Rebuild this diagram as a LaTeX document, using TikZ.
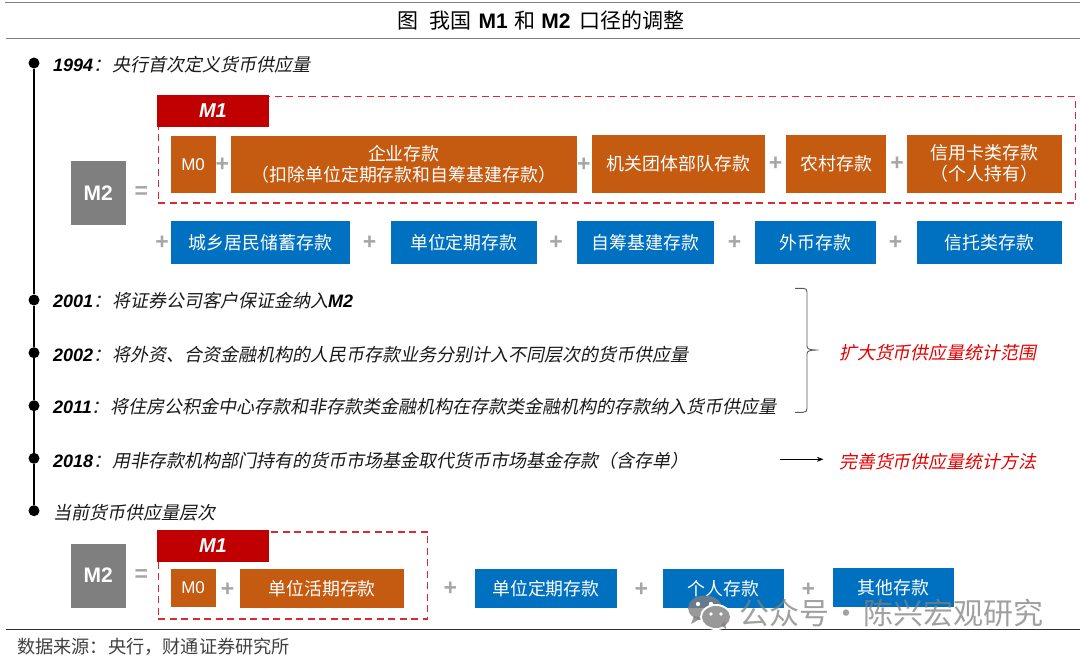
\documentclass[tikz,border=0pt]{standalone}
\usepackage{fontspec}
\usepackage{tikz}
\usetikzlibrary{positioning,arrows.meta}
\setmainfont{Liberation Sans}
\newfontfamily\lat{Liberation Sans}
\newfontfamily\cjk{Noto Sans CJK SC}
\newfontfamily\cjkit[FakeSlant=0.2]{Noto Sans CJK SC}
\newcommand{\yr}[1]{{\color{black}\lat\bfseries\itshape #1}}
\definecolor{boxorange}{HTML}{C55A11}
\definecolor{boxblue}{HTML}{0070C0}
\definecolor{tabred}{HTML}{C00000}
\definecolor{dashred}{HTML}{DC2A35}
\definecolor{signgray}{HTML}{A6A6A6}
\definecolor{rulegray}{HTML}{7F7F7F}
\begin{document}
\begin{tikzpicture}[x=1pt,y=-1pt]
\tikzstyle{every node} = [inner sep = 0 pt];
\tikzstyle{tlabel} = [anchor=west, font=\cjkit\fontsize{18}{21}\selectfont, text=black!90];
\tikzstyle{redlabel} = [anchor=west, font=\cjkit\fontsize{17.9}{21}\selectfont, text=red!90!black];
\tikzstyle{dot} = [circle, fill=black, minimum size=11 pt];
\tikzstyle{gen} = [anchor=north west, text=white, align=center, font=\cjk\fontsize{17.9}{21}\selectfont];
\tikzstyle{orangebox} = [gen, fill=boxorange];
\tikzstyle{bluebox} = [gen, fill=boxblue];
\tikzstyle{mzero} = [orangebox, font=\lat\fontsize{17}{20}\selectfont];
\tikzstyle{mtwo} = [gen, fill=rulegray, font=\lat\bfseries\fontsize{21}{24}\selectfont];
\tikzstyle{mone} = [gen, fill=tabred, font=\lat\bfseries\itshape\fontsize{20}{24}\selectfont];
\tikzstyle{frame} = [draw=dashred, line width=1.2 pt, dash pattern=on 7 pt off 4.5 pt, anchor=north west];
\tikzstyle{sign} = [text=signgray, font=\lat\bfseries\fontsize{23}{23}\selectfont];
\tikzstyle{rule} = [rulegray, line width=1.2 pt];
\useasboundingbox (0,0) rectangle (1080,657);
% title and rules
\coordinate (topA) at (5,2.7);
\coordinate (topB) at (1080,2.7);
\coordinate (midA) at (6,38.7);
\coordinate (midB) at (1080,38.7);
\coordinate (lowA) at (6,629.3);
\coordinate (lowB) at (1080,629.3);
\draw[rule] (topA) -- (topB);
\draw[rule] (midA) -- (midB);
\draw[black!80, line width=1 pt] (lowA) -- (lowB);
\node[anchor=west, font=\cjk\fontsize{21}{24}\selectfont] (title) at (397.5,20.7)
  {图\kern11pt 我国\kern7pt{\lat\bfseries M1}\kern6.5pt 和\kern6pt{\lat\bfseries M2}\kern9pt 口径的调整};
\node[anchor=west, font=\cjk\fontsize{18.2}{21}\selectfont, text=black!75] (source) at (17,647) {数据来源：央行，财通证券研究所};
% timeline
\node[dot] (dA) at (34,63) {};
\node[dot] (dB) at (34,300) {};
\node[dot] (dC) at (34,352.7) {};
\node[dot] (dD) at (34,405.7) {};
\node[dot] (dE) at (34,458.3) {};
\node[dot] (dF) at (34,510.7) {};
\draw[line width=2.8 pt] (dA) -- (dB) -- (dC) -- (dD) -- (dE) -- (dF);
\node[tlabel] (tA) at (53,64.5) {\yr{1994}：\kern1pt 央行首次定义货币供应量};
\node[tlabel] (tB) at (53,301) {\yr{2001}：\kern1pt 将证券公司客户保证金纳入\yr{M2}};
\node[tlabel] (tC) at (53,354.5) {\yr{2002}：\kern1pt 将外资、合资金融机构的人民币存款业务分别计入不同层次的货币供应量};
\node[tlabel] (tD) at (53,407) {\yr{2011}：\kern1pt 将住房公积金中心存款和非存款类金融机构在存款类金融机构的存款纳入货币供应量};
\node[tlabel] (tE) at (53,460.5) {\yr{2018}：\kern1pt 用非存款机构部门持有的货币市场基金取代货币市场基金存款（含存单）};
\node[tlabel] (tF) at (53,512.5) {当前货币供应量层次};
% first formula
\node[mtwo, minimum width=55.6, minimum height=64] (mtwoA) at (70.3,161) {M2};
\node[sign] (eqA) at (141.4,192.7) {=};
\node[frame, minimum width=917, minimum height=106.3] (frameA) at (157.6,96) {};
\node[mone, minimum width=112.5, minimum height=31.7] (moneA) at (156.5,95) {M1};
\node[mzero, minimum width=45.2, minimum height=56.7] (mzeroA) at (170.3,136) {M0};
\node[sign] (pA) at (222.4,164.3) {+};
\node[orangebox, minimum width=346.6, minimum height=56.7] (corp) at (230.3,136) {企业存款\\（扣除单位定期存款和自筹基建存款）};
\node[sign] (pB) at (583.8,164.3) {+};
\node[orangebox, minimum width=173.1, minimum height=58.4] (gov) at (591.7,134.3) {机关团体部队存款};
\node[sign] (pC) at (775.5,163.7) {+};
\node[orangebox, minimum width=100.3, minimum height=58.4] (rural) at (785.9,134.3) {农村存款};
\node[sign] (pD) at (897,164) {+};
\node[orangebox, minimum width=154.5, minimum height=58.4] (card) at (907.2,134.3) {信用卡类存款\\（个人持有）};
\node[sign] (pE) at (162,242.7) {+};
\node[bluebox, minimum width=179.7, minimum height=43.3] (house) at (170.3,220.7) {城乡居民储蓄存款};
\node[sign] (pF) at (369.7,242.7) {+};
\node[bluebox, minimum width=145.8, minimum height=43.3] (fixA) at (390.7,220.7) {单位定期存款};
\node[sign] (pG) at (556.2,242.7) {+};
\node[bluebox, minimum width=136.5, minimum height=43.3] (self) at (576.9,220.7) {自筹基建存款};
\node[sign] (pH) at (734.5,242.7) {+};
\node[bluebox, minimum width=121.7, minimum height=43.3] (forex) at (754.5,220.7) {外币存款};
\node[sign] (pI) at (895.5,242.7) {+};
\node[bluebox, minimum width=144.5, minimum height=43.3] (trust) at (917.2,220.7) {信托类存款};
% brace and red notes
\coordinate (braceA) at (795,288.3);
\coordinate (braceB) at (818.6,350);
\coordinate (braceC) at (795,412.3);
\draw[black!65, line width=0.9 pt] (braceA) -- (803,288.3) .. controls (806,288.3) and (807,289.5) .. (807,292)
  -- (807,346) .. controls (807,349) and (809,350) .. (braceB)
  .. controls (809,350) and (807,351) .. (807,354) -- (807,408.5)
  .. controls (807,411) and (806,412.3) .. (803,412.3) -- (braceC);
\node[redlabel] (scope) at (839,352.3) {扩大货币供应量统计范围};
\coordinate (arrowA) at (780.3,459.3);
\coordinate (arrowB) at (823.4,459.3);
\draw[-{Stealth[length=6.5pt,width=5pt]}, line width=0.8 pt] (arrowA) -- (arrowB);
\node[redlabel] (method) at (839,462) {完善货币供应量统计方法};
% current formula
\node[mtwo, minimum width=55.6, minimum height=64] (mtwoB) at (70.3,543.3) {M2};
\node[sign] (eqB) at (141.4,575.7) {=};
\node[frame, minimum width=269.4, minimum height=87] (frameB) at (157.6,531.3) {};
\node[mone, minimum width=112.5, minimum height=31.3] (moneB) at (156.5,530) {M1};
\node[mzero, minimum width=45.2, minimum height=38] (mzeroB) at (170.3,568.7) {M0};
\node[sign] (pJ) at (227.6,590) {+};
\node[orangebox, minimum width=163.8, minimum height=38.6] (demand) at (240,568.7) {单位活期存款};
\node[sign] (pK) at (450.3,588.3) {+};
\node[bluebox, minimum width=142.4, minimum height=38.6] (fixB) at (474.5,568.7) {单位定期存款};
\node[sign] (pL) at (641.4,590) {+};
\node[bluebox, minimum width=121.6, minimum height=38.6] (person) at (662.4,568.7) {个人存款};
\node[sign] (pM) at (808.3,590) {+};
\node[bluebox, minimum width=121, minimum height=39.4] (other) at (832.4,567.3) {其他存款};
% watermark
\fill[black!50, opacity=0.8] (705,608) ellipse [x radius=17, y radius=12.5];
\fill[black!50, opacity=0.8] (694,616) -- (691,624) -- (702,618) -- cycle;
\fill[white] (698,604) circle (2.2) (711,604) circle (2.2);
\fill[white] (716,617) ellipse [x radius=16, y radius=13];
\fill[black!50, opacity=0.8] (716,617) ellipse [x radius=14, y radius=11];
\fill[black!50, opacity=0.8] (721,625) -- (726,629) -- (725,621) -- cycle;
\fill[white] (711,614) circle (1.8) (721,614) circle (1.8);
\node[anchor=west, font=\cjk\fontsize{30}{32}\selectfont, text=black!50, opacity=0.75] (mark) at (739,613) {公众号\kern2pt·\kern2pt 陈兴宏观研究};
\end{tikzpicture}
\end{document}
